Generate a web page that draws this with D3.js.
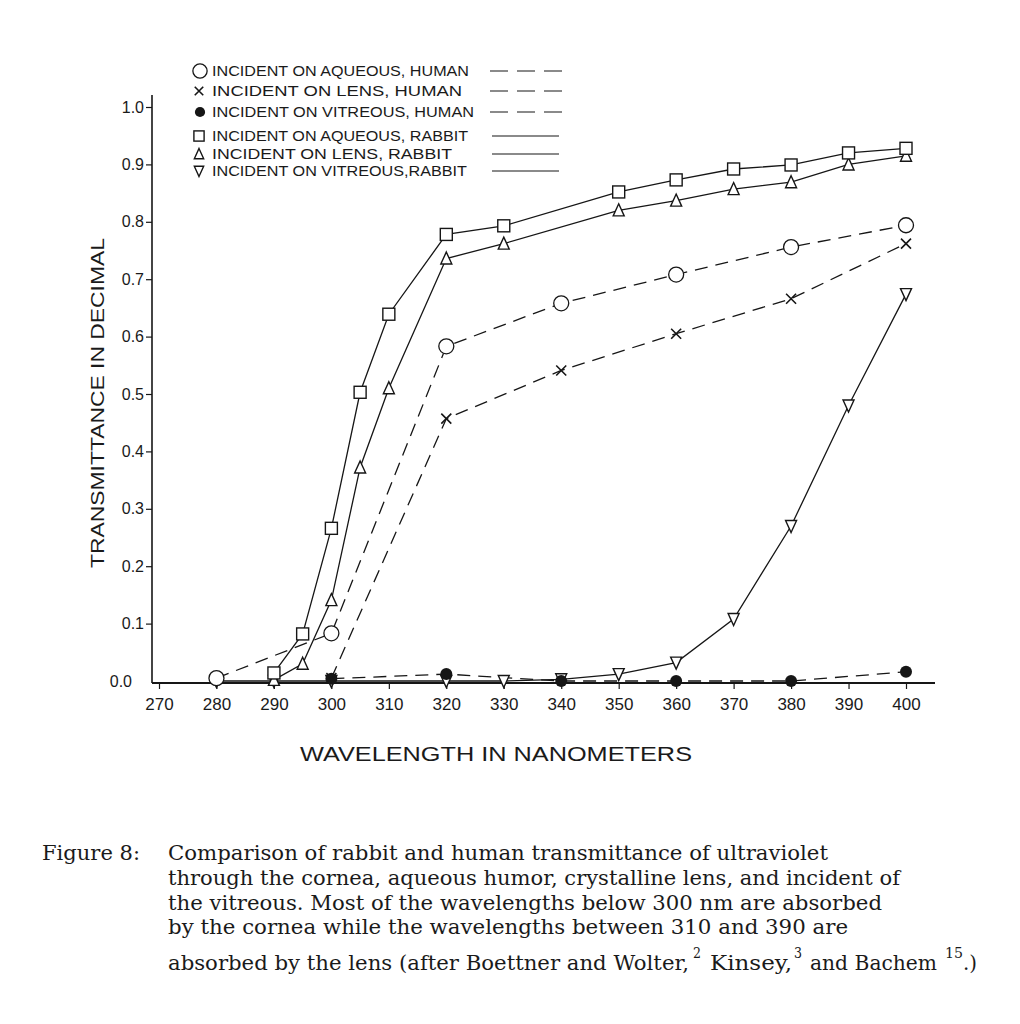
<!DOCTYPE html>
<html>
<head>
<meta charset="utf-8">
<script src="https://cdn.jsdelivr.net/npm/d3@7"></script>
<style>
  body { margin: 0; background: #fff; }
  svg text { fill: #1a1a1a; }
</style>
</head>
<body>
<div id="chart"></div>
<script>
// Valeurs (transmittance en décimal)
var wlAqueousHuman = [280, 300, 320, 340, 360, 380, 400];
var aqueousHuman   = [0.005, 0.083, 0.583, 0.658, 0.708, 0.756, 0.794];

var wlLensHuman = [300, 320, 340, 360, 380, 400];
var lensHuman   = [0.005, 0.457, 0.541, 0.605, 0.666, 0.762];

var wlVitreousHuman = [300, 320, 340, 360, 380, 400];
var vitreousHuman   = [0.004, 0.012, 0.0, 0.0, 0.0, 0.016];

var wlAqueousRabbit = [290, 295, 300, 305, 310, 320, 330, 350, 360, 370, 380, 390, 400];
var aqueousRabbit   = [0.014, 0.082, 0.266, 0.503, 0.639, 0.778, 0.793, 0.852, 0.873, 0.892, 0.899, 0.920, 0.928];

var wlLensRabbit = [290, 295, 300, 305, 310, 320, 330, 350, 360, 370, 380, 390, 400];
var lensRabbit   = [0.002, 0.030, 0.141, 0.372, 0.510, 0.736, 0.762, 0.820, 0.837, 0.857, 0.869, 0.900, 0.915];

var wlVitreousRabbit = [280, 290, 300, 320, 330, 340, 350, 360, 370, 380, 390, 400];
var vitreousRabbit   = [0.0, 0.0, 0.0, 0.0, 0.0, 0.003, 0.012, 0.032, 0.108, 0.270, 0.480, 0.674];

var xTicks = [270, 280, 290, 300, 310, 320, 330, 340, 350, 360, 370, 380, 390, 400];
var yTicks = [0, 0.1, 0.2, 0.3, 0.4, 0.5, 0.6, 0.7, 0.8, 0.9, 1.0];

var legendLabels = [
    "INCIDENT ON AQUEOUS, HUMAN",
    "INCIDENT ON LENS, HUMAN",
    "INCIDENT ON VITREOUS, HUMAN",
    "INCIDENT ON AQUEOUS, RABBIT",
    "INCIDENT ON LENS, RABBIT",
    "INCIDENT ON VITREOUS,RABBIT"
];

var captionLines = [
    "Comparison of rabbit and human transmittance of ultraviolet",
    "through the cornea, aqueous humor, crystalline lens, and incident of",
    "the vitreous.  Most of the wavelengths below 300 nm are absorbed",
    "by the cornea while the wavelengths between 310 and 390 are"
];
// dernière ligne : morceaux normaux et exposants (appels de références)
var lastLineParts = ["absorbed by the lens (after Boettner and Wolter,", "Kinsey,", "and Bachem", ".)"];
var lastLineRefs = ["2", "3", "15"];

// séries
var series = [
    {wl: wlAqueousHuman, v: aqueousHuman, mark: "circle", dashed: true},
    {wl: wlLensHuman, v: lensHuman, mark: "cross", dashed: true},
    {wl: wlVitreousHuman, v: vitreousHuman, mark: "dot", dashed: true},
    {wl: wlAqueousRabbit, v: aqueousRabbit, mark: "square", dashed: false},
    {wl: wlLensRabbit, v: lensRabbit, mark: "up", dashed: false},
    {wl: wlVitreousRabbit, v: vitreousRabbit, mark: "down", dashed: false}
];

var ink = "#161616";
var W = 1020, H = 1024;

var svg = d3.select("#chart").append("svg")
    .attr("width", W)
    .attr("height", H)
    .style("font-family", "'Liberation Sans', Arial, sans-serif");

var x = d3.scaleLinear().domain([270, 400]).range([159, 906]);
var y = d3.scaleLinear().domain([0, 1]).range([681, 107]);

// Dessin d'un marqueur
function drawMark(g, type, cx, cy, s) {
    s = s || 1;
    if (type == "circle") {
        g.append("circle").attr("cx", cx).attr("cy", cy).attr("r", 7.5 * s)
            .attr("fill", "#fff").attr("stroke", ink).attr("stroke-width", 1.3);
    } else if (type == "dot") {
        g.append("circle").attr("cx", cx).attr("cy", cy).attr("r", 6 * s)
            .attr("fill", ink);
    } else if (type == "square") {
        var a = 6 * s;
        g.append("rect").attr("x", cx - a).attr("y", cy - a)
            .attr("width", 2 * a).attr("height", 2 * a)
            .attr("fill", "#fff").attr("stroke", ink).attr("stroke-width", 1.4);
    } else if (type == "up" || type == "down") {
        var h = 6.5 * s, w = 5.5 * s, d = type == "up" ? 1 : -1;
        g.append("path")
            .attr("d", "M" + cx + "," + (cy - d * h) + "L" + (cx + w) + "," + (cy + d * h * 0.85) +
                "L" + (cx - w) + "," + (cy + d * h * 0.85) + "Z")
            .attr("fill", "#fff").attr("stroke", ink).attr("stroke-width", 1.4);
    } else if (type == "cross") {
        var c = 5 * s;
        g.append("path")
            .attr("d", "M" + (cx - c) + "," + (cy - c) + "L" + (cx + c) + "," + (cy + c) +
                "M" + (cx + c) + "," + (cy - c) + "L" + (cx - c) + "," + (cy + c))
            .attr("stroke", ink).attr("stroke-width", 1.6).attr("fill", "none");
    }
}

// Axe Y
var yAxis = svg.append("g")
    .attr("transform", "translate(152,0)")
    .call(d3.axisLeft(y).tickValues(yTicks).tickSize(6).tickPadding(2)
        .tickFormat(d3.format(".1f")));
yAxis.select(".domain").remove();
yAxis.selectAll("line").attr("stroke", ink).attr("stroke-width", 1.2);
yAxis.selectAll("text")
    .style("font-size", "16px")
    .attr("fill", ink);
yAxis.selectAll(".tick").filter(function (d) { return d === 0; })
    .select("line").remove();
yAxis.selectAll(".tick").filter(function (d) { return d === 0; })
    .select("text").attr("x", -20);

svg.append("line")
    .attr("x1", 152).attr("x2", 152)
    .attr("y1", 95).attr("y2", y(0) + 2)
    .attr("stroke", ink).attr("stroke-width", 1.6);

// Axe X
var xAxis = svg.append("g")
    .attr("transform", "translate(0," + (y(0) + 2) + ")")
    .call(d3.axisBottom(x).tickValues(xTicks).tickSize(6).tickPadding(9)
        .tickFormat(d3.format("d")));
xAxis.select(".domain").remove();
xAxis.selectAll("line").attr("stroke", ink).attr("stroke-width", 1.2);
xAxis.selectAll("text")
    .style("font-size", "17px")
    .attr("fill", ink);

svg.append("line")
    .attr("x1", 152).attr("x2", 935)
    .attr("y1", y(0) + 2).attr("y2", y(0) + 2)
    .attr("stroke", ink).attr("stroke-width", 1.8);

// Courbes
var line = d3.line()
    .x(function (d) { return x(d[0]); })
    .y(function (d) { return y(d[1]); });

var gLines = svg.append("g");
var gMarks = svg.append("g");

series.forEach(function (s) {
    var pts = s.wl.map(function (w, i) { return [w, s.v[i]]; });
    gLines.append("path")
        .datum(pts)
        .attr("d", line)
        .attr("fill", "none")
        .attr("stroke", ink)
        .attr("stroke-width", 1.3)
        .attr("stroke-dasharray", s.dashed ? "13,8" : null);
});
// marqueurs : d'abord les séries du bas
[5, 2, 1, 0, 4, 3].forEach(function (k) {
    var s = series[k];
    s.wl.forEach(function (w, i) {
        drawMark(gMarks, s.mark, x(w), y(s.v[i]));
    });
});

// Légende
var legendY = [71, 91, 112, 136, 154, 171];
var legendMarkX = [200, 199, 200, 199, 199, 199];
var legendTextLen = [257, 250, 262, 256, 240, 255];
var legend = svg.append("g");
legendLabels.forEach(function (lab, i) {
    var s = series[i];
    drawMark(legend, s.mark, legendMarkX[i], legendY[i], s.mark == "circle" ? 0.95 : 0.85);
    legend.append("text")
        .attr("x", 212)
        .attr("y", legendY[i])
        .attr("dy", "0.36em")
        .attr("textLength", legendTextLen[i])
        .attr("lengthAdjust", "spacingAndGlyphs")
        .style("font-size", "15px")
        .text(lab);
    legend.append("line")
        .attr("x1", s.dashed ? 490 : 492)
        .attr("x2", s.dashed ? 563 : 559)
        .attr("y1", legendY[i]).attr("y2", legendY[i])
        .attr("stroke", ink)
        .attr("stroke-width", 1.2)
        .attr("stroke-dasharray", s.dashed ? "18,9" : null);
});

// Titres des axes
svg.append("text")
    .attr("transform", "translate(97,403) rotate(-90)")
    .attr("text-anchor", "middle")
    .attr("dy", "0.36em")
    .attr("textLength", 330)
    .attr("lengthAdjust", "spacingAndGlyphs")
    .style("font-size", "19px")
    .text("TRANSMITTANCE IN DECIMAL");

svg.append("text")
    .attr("x", 496)
    .attr("y", 754)
    .attr("text-anchor", "middle")
    .attr("dy", "0.36em")
    .attr("textLength", 392)
    .attr("lengthAdjust", "spacingAndGlyphs")
    .style("font-size", "20px")
    .text("WAVELENGTH IN NANOMETERS");

// Légende de la figure
var cap = svg.append("g")
    .style("font-family", "'DejaVu Serif', 'Liberation Serif', serif")
    .style("font-size", "20px");

function capText(t, px, py, len, size) {
    var el = cap.append("text")
        .attr("x", px).attr("y", py)
        .attr("textLength", len)
        .attr("lengthAdjust", "spacingAndGlyphs")
        .text(t);
    if (size) el.style("font-size", size + "px");
    return el;
}

capText("Figure 8:", 42, 860, 98);

var capY = [860, 885, 910, 934];
var capLen = [660, 732, 714, 680];
captionLines.forEach(function (t, i) {
    capText(t, 168, capY[i], capLen[i]);
});

// dernière ligne, placée morceau par morceau
var partX = [168, 710, 810, 963], partLen = [521, 82, 127, 14];
lastLineParts.forEach(function (t, i) {
    capText(t, partX[i], 970, partLen[i]);
});
var refX = [693, 794, 945], refLen = [8, 8, 18];
lastLineRefs.forEach(function (t, i) {
    capText(t, refX[i], 958, refLen[i], 15);
});
</script>
</body>
</html>
